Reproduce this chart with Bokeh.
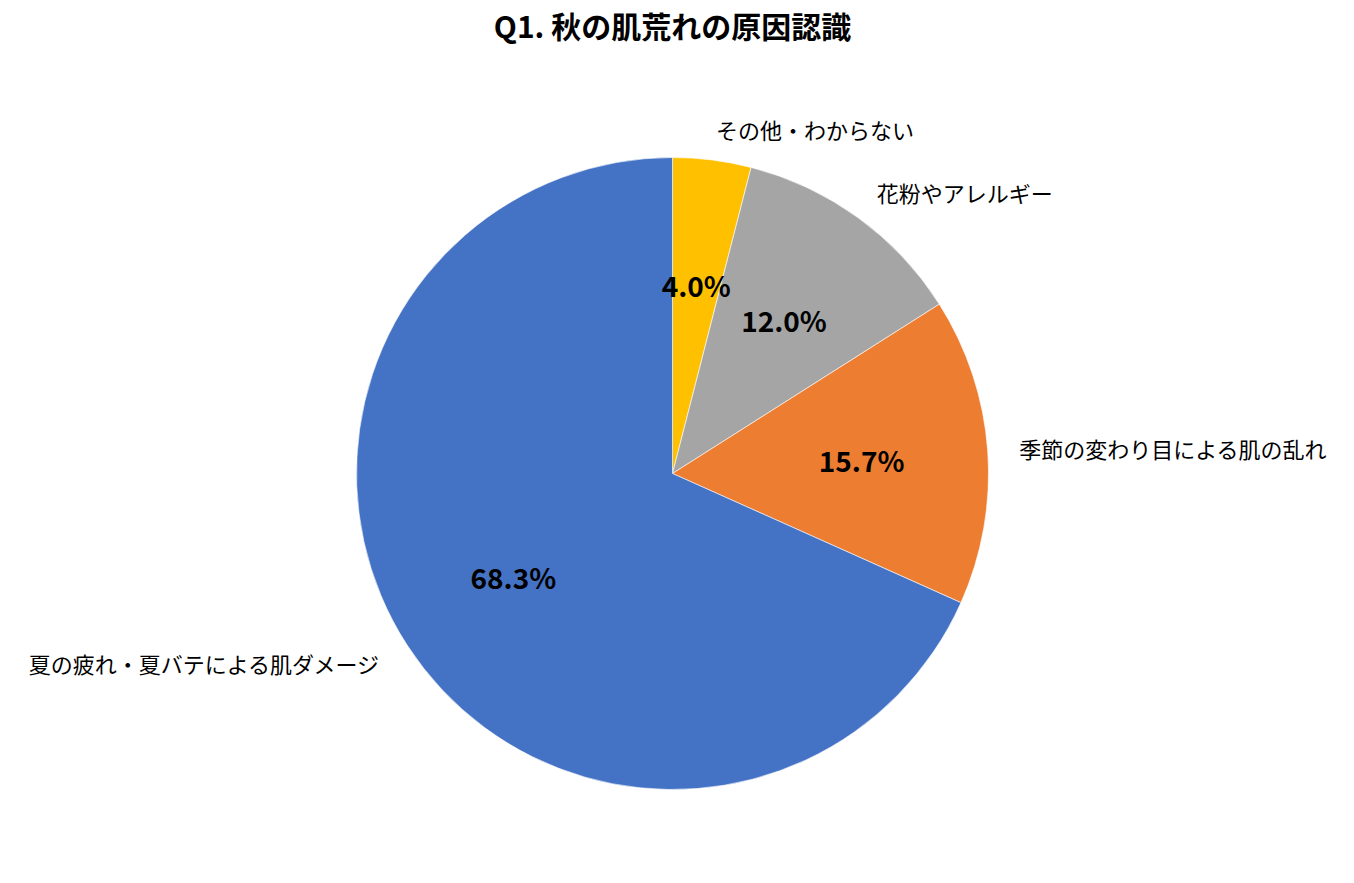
import numpy as np
from bokeh.plotting import figure
from bokeh.models import ColumnDataSource, Range1d
from bokeh.core.properties import value
from bokeh.embed import file_html
from bokeh.resources import INLINE

title = "Q1. 秋の肌荒れの原因認識"
labels = ["その他・わからない", "花粉やアレルギー", "季節の変わり目による肌の乱れ",
          "夏の疲れ・夏バテによる肌ダメージ"]
shares = [4.0, 12.0, 15.7, 68.3]
colors = ["#FFC000", "#A5A5A5", "#ED7D31", "#4472C4"]

W, H = 1338, 867
cx, cy, R = 672, 394, 316
font = "Noto Sans CJK JP"

frac = np.array(shares) / sum(shares)
cum = np.cumsum(frac)
before = cum - frac
start = np.pi / 2 - cum * 2 * np.pi
end = np.pi / 2 - before * 2 * np.pi
mid = (start + end) / 2

src = ColumnDataSource(dict(
    start=start, end=end, color=colors,
    px=cx + 0.6 * R * np.cos(mid), py=cy + 0.6 * R * np.sin(mid),
    pct=["%.1f%%" % s for s in shares],
    lx=cx + 1.1 * R * np.cos(mid), ly=cy + 1.1 * R * np.sin(mid),
    label=labels,
    align=["left" if np.cos(a) >= 0 else "right" for a in mid],
))

p = figure(width=W, height=H, x_range=Range1d(0, W), y_range=Range1d(0, H),
           output_backend="svg", toolbar_location=None, min_border=0)
p.axis.visible = False
p.grid.visible = False
p.outline_line_color = None

p.wedge(x=cx, y=cy, radius=R, start_angle="start", end_angle="end",
        direction="anticlock", fill_color="color", line_color="white",
        line_width=0.6, source=src)

p.text(x="px", y="py", text="pct", source=src, text_align="center",
       text_baseline="middle", text_font=value(font), text_font_style="bold",
       text_font_size="28px", text_color="#000000")

p.text(x="lx", y="ly", text="label", source=src, text_align="align",
       text_baseline="middle", text_font=value(font), text_font_size="22px",
       text_color="#000000")

p.text(x=[cx], y=[H - 24], text=[title], text_align="center",
       text_baseline="middle", text_font=value(font), text_font_style="bold",
       text_font_size="30px", text_color="#000000")

open("out.html", "w").write(file_html(p, INLINE))
